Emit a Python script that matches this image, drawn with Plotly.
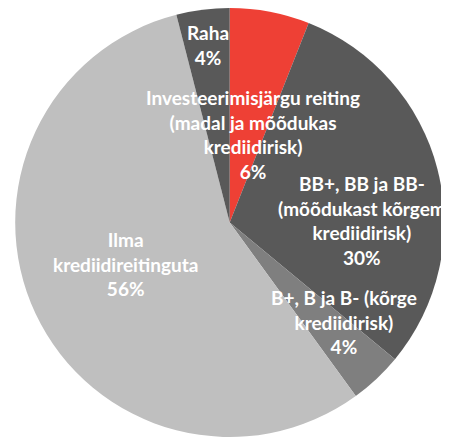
import plotly.graph_objects as go

categories = [
    "Investeerimisjärgu reiting<br>(madal ja mõõdukas<br>krediidirisk)",
    "BB+, BB ja BB-<br>(mõõdukast kõrgem<br>krediidirisk)",
    "B+, B ja B- (kõrge<br>krediidirisk)",
    "Ilma<br>krediidireitinguta",
    "Raha",
]
values = [6, 30, 4, 56, 4]
colors = ["#EE4035", "#595959", "#7F7F7F", "#BFBFBF", "#595959"]

# page offset (body margin) and figure size, layout only
OFF = 8
W, H = 449 - OFF, 437 - OFF
# pie centre / radius in page pixels
CX, CY, R = 229.7, 222.5, 214.5
# label centre positions in page pixels, layout only
label_px = [(253, 134), (362, 221), (344, 322), (125, 264), (208, 45)]

cx, cy = CX - OFF, CY - OFF
fig = go.Figure(go.Pie(
    labels=[c.replace("<br>", " ") for c in categories],
    values=values,
    sort=False,
    direction="clockwise",
    rotation=0,
    marker=dict(colors=colors, line=dict(width=0)),
    textinfo="none",
    hoverinfo="label+percent",
    domain=dict(x=[(cx - R) / W, (cx + R) / W],
                y=[max(0, 1 - (cy + R) / H), min(1, 1 - (cy - R) / H)]),
    showlegend=False,
))

total = sum(values)
for cat, v, (px, py) in zip(categories, values, label_px):
    fig.add_annotation(
        x=(px - OFF) / W, y=1 - (py - OFF) / H, xref="paper", yref="paper",
        text=f"{cat}<br>{round(100 * v / total)}%",
        showarrow=False, xanchor="center", yanchor="middle", align="center",
        font=dict(family="Lato", size=19, color="white", weight="bold"),
    )

fig.update_layout(
    width=W, height=H,
    margin=dict(l=0, r=0, t=0, b=0),
    paper_bgcolor="white", plot_bgcolor="white",
)
fig.write_html("out.html")
